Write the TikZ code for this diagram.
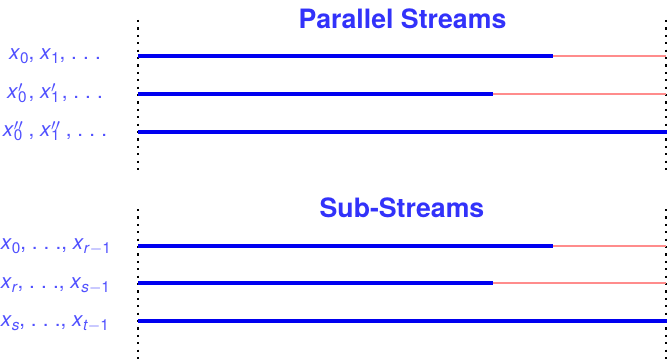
\documentclass[tikz,border=0pt]{standalone}
\usepackage{fontspec}
\setmainfont{TeX Gyre Heros}
\setsansfont{TeX Gyre Heros}
\definecolor{labelblue}{RGB}{80,80,255}
\definecolor{titleblue}{RGB}{50,50,250}
\definecolor{streamblue}{RGB}{0,0,240}
\definecolor{restpink}{RGB}{255,140,140}
% small size used for indices and primes
\newcommand\idx{\fontsize{11.5}{12}\selectfont}
% sans-serif italic variable with optional primes and a subscript
\newcommand\vx[2]{\textit{x}\makebox[0pt][l]{\idx\raisebox{4.6pt}{#1}}{\idx\raisebox{-3pt}{#2}}}
\newcommand\pr{$\prime$}
\newcommand\dts{.\hspace{0.3em}.\hspace{0.3em}.}
\newcommand\mn{$-$}
\begin{document}
\begin{tikzpicture}[x=0.75pt,y=-0.75pt,
  title/.style={font=\fontsize{20}{24}\selectfont\bfseries, text=titleblue, anchor=base, inner sep=0pt},
  lbl/.style={font=\fontsize{15.5}{19}\selectfont, text=labelblue, anchor=base, inner sep=0pt},
  lblw/.style={lbl, anchor=base west},
  done/.style={draw=streamblue, line width=3pt},
  rest/.style={draw=restpink, line width=1.5pt},
  bound/.style={draw=black, line width=1.6pt, dash pattern=on 1.6pt off 3.95pt}]
\useasboundingbox (0,0) rectangle (667,360);

% ---- Parallel streams ----
\node[title] (t1) at (402.5,29) {Parallel Streams};
\coordinate (l1t) at (138,20);
\coordinate (l1b) at (138,170);
\coordinate (r1t) at (666,20);
\coordinate (r1b) at (666,170);
\draw[bound] (l1t) -- (l1b);
\draw[bound] (r1t) -- (r1b);

\node[lbl] (p1) at (55,59.5) {\vx{}{0}, \vx{}{1}, \dts};
\node[lbl] (p2) at (55,98.5) {\vx{\pr}{0}\hspace{0.1em}, \vx{\pr}{1}\hspace{0.1em}, \dts};
\node[lbl] (p3) at (55,136.5) {\vx{\pr\pr}{0}\hspace{0.3em}, \vx{\pr\pr}{1}\hspace{0.3em}, \dts};

\coordinate (a1s) at (138,56.5);  \coordinate (a1m) at (553,56.5);  \coordinate (a1e) at (666,56.5);
\coordinate (a2s) at (138,94);    \coordinate (a2m) at (493,94);    \coordinate (a2e) at (666,94);
\coordinate (a3s) at (138,132);   \coordinate (a3e) at (667,132);
\draw[rest] (a1m) -- (a1e);
\draw[rest] (a2m) -- (a2e);
\draw[done] (a1s) -- (a1m);
\draw[done] (a2s) -- (a2m);
\draw[done] (a3s) -- (a3e);

% ---- Sub-streams ----
\node[title] (t2) at (402,217) {Sub-Streams};
\coordinate (l2t) at (138,209);
\coordinate (l2b) at (138,360);
\coordinate (r2t) at (666,209);
\coordinate (r2b) at (666,360);
\draw[bound] (l2t) -- (l2b);
\draw[bound] (r2t) -- (r2b);

\node[lblw] (s1) at (0.5,249) {\vx{}{0}, \dts, \vx{}{\textit{r}\mn1}};
\node[lblw] (s2) at (0.5,288) {\vx{}{\textit{r}}, \dts, \vx{}{\textit{s}\mn1}};
\node[lblw] (s3) at (0.5,326) {\vx{}{\textit{s}}, \dts, \vx{}{\textit{t}\mn1}};

\coordinate (b1s) at (138,245.5); \coordinate (b1m) at (553,245.5); \coordinate (b1e) at (666,245.5);
\coordinate (b2s) at (138,283);   \coordinate (b2m) at (493,283);   \coordinate (b2e) at (666,283);
\coordinate (b3s) at (138,321);   \coordinate (b3e) at (667,321);
\draw[rest] (b1m) -- (b1e);
\draw[rest] (b2m) -- (b2e);
\draw[done] (b1s) -- (b1m);
\draw[done] (b2s) -- (b2m);
\draw[done] (b3s) -- (b3e);
\end{tikzpicture}
\end{document}
